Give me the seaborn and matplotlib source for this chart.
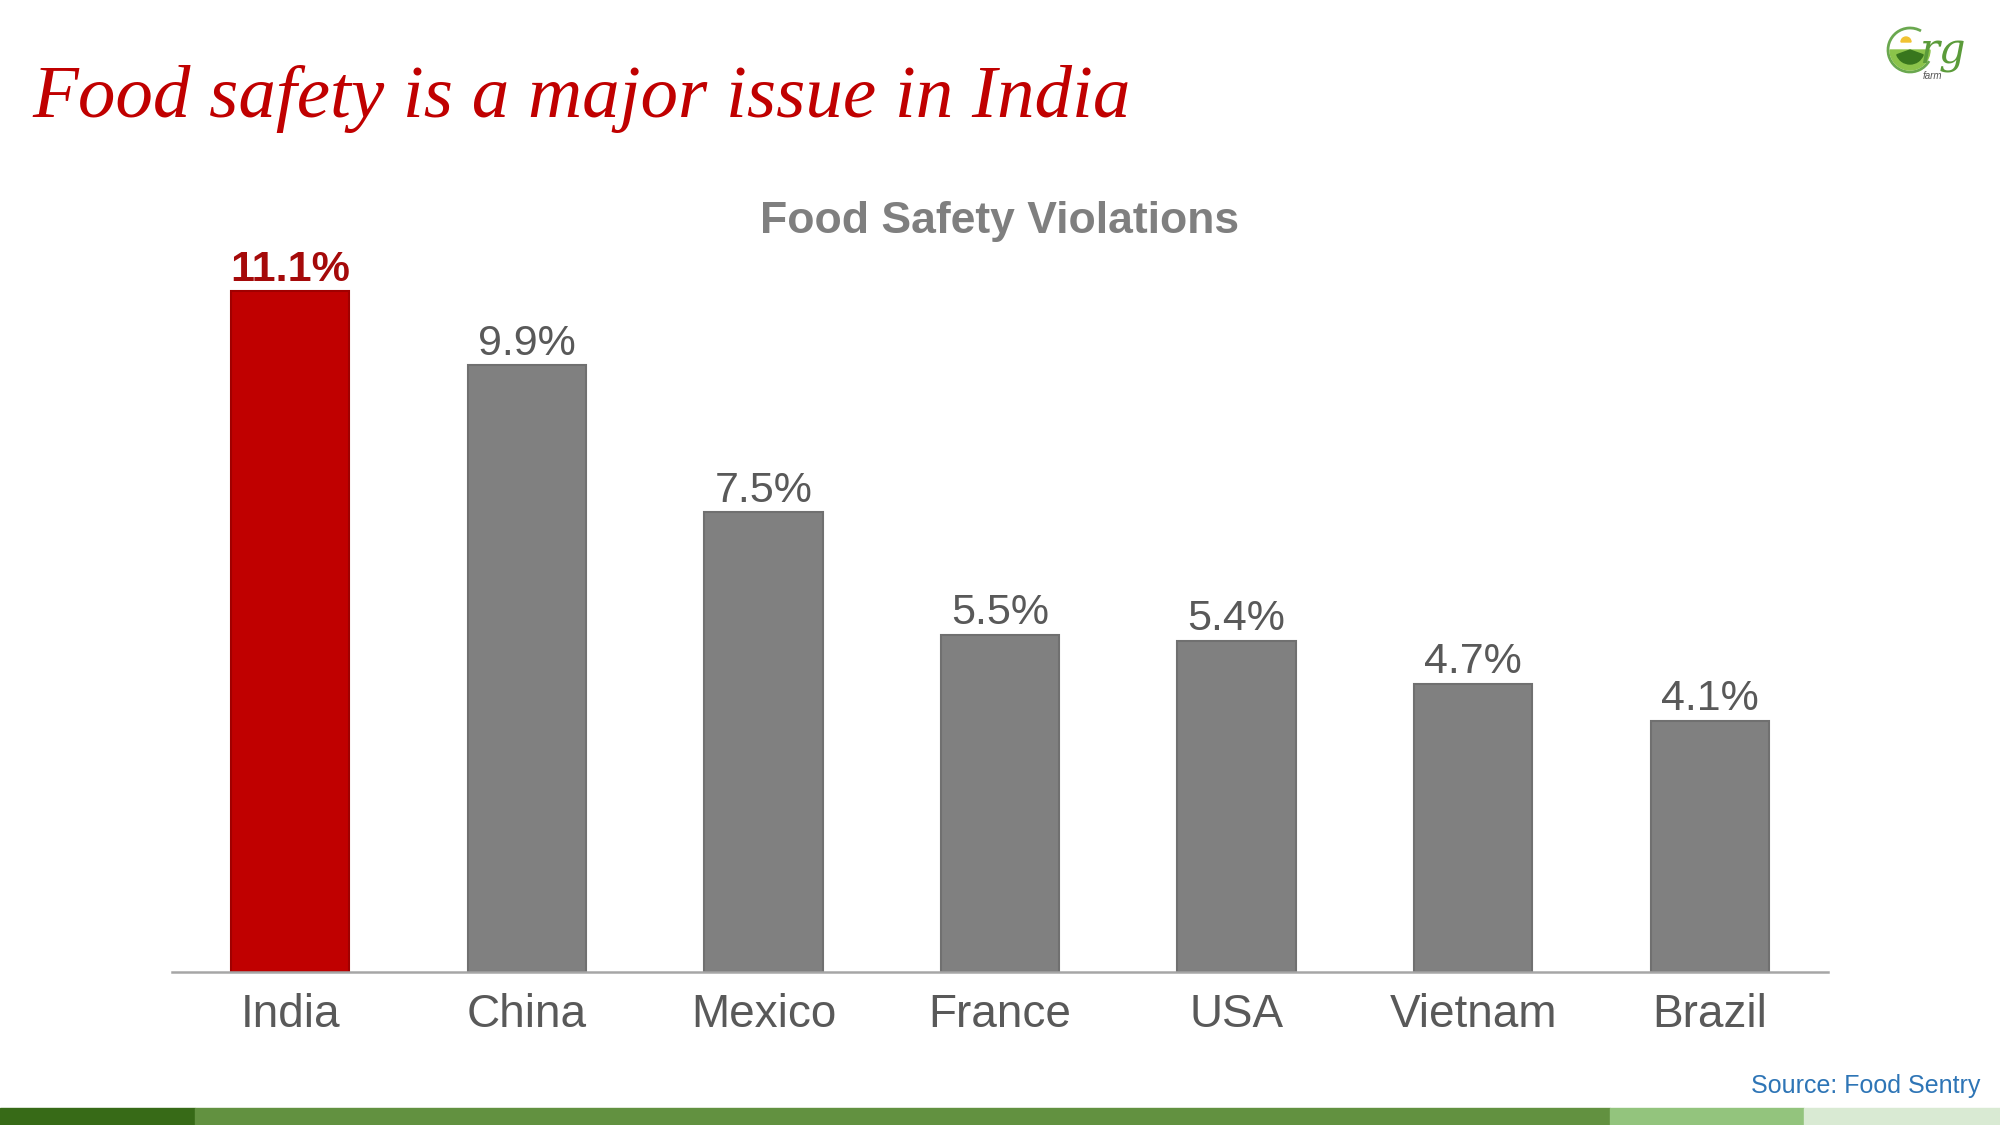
import matplotlib
matplotlib.use("Agg")
import matplotlib.pyplot as plt
import seaborn as sns
import pandas as pd
from matplotlib.patches import Arc, Rectangle, Wedge

countries = ["India", "China", "Mexico", "France", "USA", "Vietnam", "Brazil"]
values = [11.1, 9.9, 7.5, 5.5, 5.4, 4.7, 4.1]
labels = ["11.1%", "9.9%", "7.5%", "5.5%", "5.4%", "4.7%", "4.1%"]
bar_colors = ["#c00000"] + ["#808080"] * 6
edge_colors = ["#a00000"] + ["#707070"] * 6
label_colors = ["#a50a0a"] + ["#595959"] * 6

sns.set_theme(style="white")
plt.rcParams["font.family"] = ["Liberation Sans", "DejaVu Sans"]

df = pd.DataFrame({"country": countries, "value": values})

fig = plt.figure(figsize=(20, 11.25), dpi=100)
ax = fig.add_axes([0.086, 0.136, 0.828, 0.654])

sns.barplot(data=df, x="country", y="value", hue="country",
            palette=dict(zip(countries, bar_colors)), legend=False,
            width=0.5, ax=ax, saturation=1)
for patch, ec in zip(ax.patches, edge_colors):
    patch.set_edgecolor(ec)
    patch.set_linewidth(1.5)

for i, (v, lab, c) in enumerate(zip(values, labels, label_colors)):
    ax.annotate(lab, xy=(i, v), xytext=(0, 7.5), textcoords="offset points",
                ha="center", va="baseline", fontsize=31, color=c,
                fontweight="bold" if i == 0 else "normal")

ax.set_xlim(-0.5, 6.5)
ax.set_ylim(0, 12)
ax.set_xlabel("")
ax.set_ylabel("")
ax.set_yticks([])
ax.tick_params(axis="x", length=0, pad=15, labelsize=33, labelcolor="#595959")
for s in ["top", "left", "right"]:
    ax.spines[s].set_visible(False)
ax.spines["bottom"].set_color("#a6a6a6")
ax.spines["bottom"].set_linewidth(1.8)

# chart title
fig.text(0.5, 1 - 233 / 1125, "Food Safety Violations", ha="center", va="baseline",
         fontsize=32, fontweight="bold", color="#7f7f7f")

# slide title
fig.text(32 / 2000, 1 - 117 / 1125, "Food safety is a major issue in India",
         ha="left", va="baseline", fontsize=54, color="#c00000",
         family=["Liberation Serif", "DejaVu Serif"], style="italic")

# source
fig.text(1980 / 2000, 1 - 1093 / 1125, "Source: Food Sentry", ha="right", va="baseline",
         fontsize=18, color="#2e75b6")

# bottom colour band
band = [(0, 195, "#376a17"), (195, 1610, "#629140"), (1610, 1804, "#93c47d"), (1804, 2000, "#d9ead3")]
for x0, x1, col in band:
    fig.patches.append(Rectangle((x0 / 2000, 0), (x1 - x0) / 2000, 17 / 1125,
                                 transform=fig.transFigure, color=col, zorder=5))

# logo
lax = fig.add_axes([1880 / 2000, 1 - 90 / 1125, 110 / 2000, 75 / 1125])
lax.set_xlim(0, 110)
lax.set_ylim(0, 75)
lax.set_aspect("equal")
lax.axis("off")
lax.add_patch(Arc((30, 40), 44, 44, theta1=60, theta2=330, color="#6aa84f", lw=2))
lax.add_patch(Wedge((30, 40), 20, 180, 360, color="#8bc34a"))
lax.add_patch(Wedge((30, 40), 14, 200, 340, color="#38761d"))
lax.add_patch(Wedge((26, 48), 5, 0, 180, color="#f1c232"))
lax.text(62, 38, "rg", ha="center", va="center", fontsize=30, color="#5b9b3a",
         style="italic", family=["DejaVu Serif"])
lax.text(52, 14, "farm", ha="center", va="center", fontsize=7, color="#555555", style="italic")

fig.savefig("out.png", dpi=100, facecolor="white")
